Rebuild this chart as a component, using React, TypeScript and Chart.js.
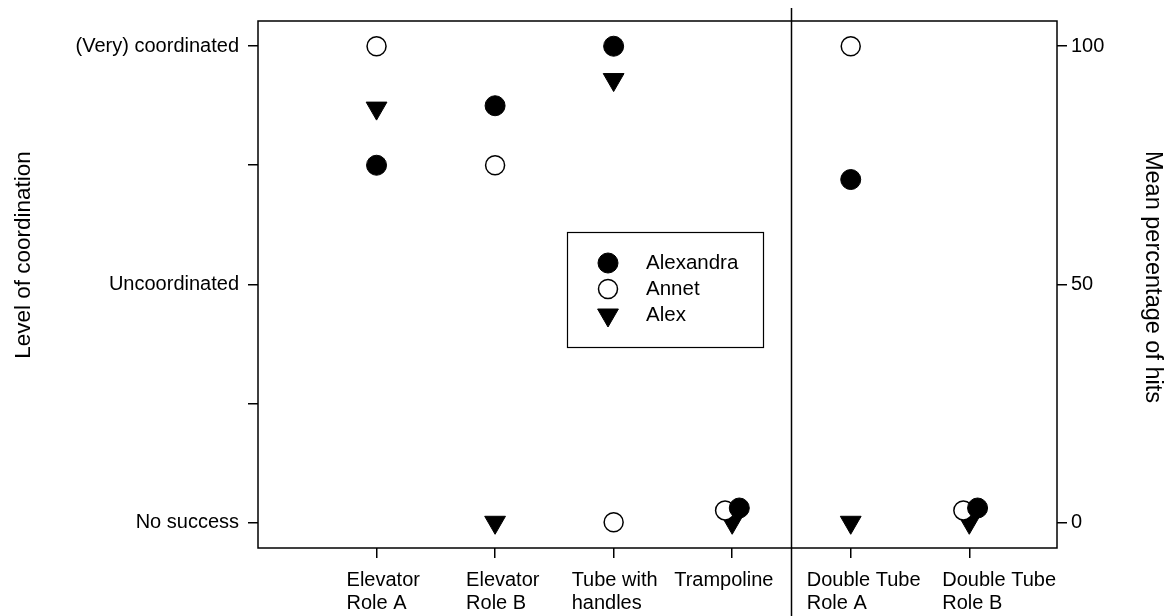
import React, { useEffect, useRef } from "react";
import { Chart, registerables } from "chart.js";

Chart.register(...registerables);

// ---- data ----
const categories: string[][] = [
  ["Elevator", "Role A"],
  ["Elevator", "Role B"],
  ["Tube with", "handles"],
  ["Trampoline"],
  ["Double Tube", "Role A"],
  ["Double Tube", "Role B"],
];
const alexandraValues = [75, 87.5, 100, 3, 72, 3];
const annetValues = [100, 75, 0, 2.5, 100, 2.5];
const alexValues = [87, 0, 93, 0, 0, 0];
// small horizontal offsets used in the original to separate overlapping symbols
const alexandraJitter = [0, 0, 0, 0.06, 0, 0.07];
const annetJitter = [0, 0, 0, -0.06, 0, -0.05];
const alexJitter = [0, 0, 0, 0, 0, 0];
const leftTickValues = [0, 25, 50, 75, 100];
const leftTickLabels: Record<number, string> = {
  0: "No success",
  50: "Uncoordinated",
  100: "(Very) coordinated",
};
const rightTickValues = [0, 50, 100];
const dividerAt = 3.5;
const seriesNames = ["Alexandra", "Annet", "Alex"];
const leftTitle = "Level of coordination";
const rightTitle = "Mean percentage of hits";

// layout: left edge of each category label relative to its tick (px)
const labelShift = [-30, -29, -42, -58, -44, -27];

const FONT = "'Liberation Sans', Arial, Helvetica, sans-serif";

function toPoints(vals: number[], jit: number[]) {
  return vals.map((v, i) => ({ x: i + jit[i], y: v }));
}

function drawSymbol(ctx: CanvasRenderingContext2D, ds: any, x: number, y: number) {
  ctx.save();
  ctx.fillStyle = ds.backgroundColor;
  ctx.strokeStyle = ds.borderColor;
  ctx.lineWidth = ds.borderWidth;
  const r = ds.pointRadius;
  ctx.beginPath();
  if (ds.pointStyle === "triangle") {
    const w = r * Math.sqrt(3);
    ctx.moveTo(x - w / 2, y - r / 2);
    ctx.lineTo(x + w / 2, y - r / 2);
    ctx.lineTo(x, y + r);
    ctx.closePath();
  } else {
    ctx.arc(x, y, r, 0, Math.PI * 2);
  }
  ctx.fill();
  ctx.stroke();
  ctx.restore();
}

const framePlugin = {
  id: "frame",
  afterDraw(chart: any) {
    const { ctx, chartArea: ca, scales } = chart;
    ctx.save();
    ctx.strokeStyle = "#000";
    ctx.lineWidth = 1.5;
    ctx.strokeRect(ca.left, ca.top, ca.right - ca.left, ca.bottom - ca.top);
    // divider
    const dx = Math.round(scales.x.getPixelForValue(dividerAt)) + 0.5;
    ctx.beginPath();
    ctx.moveTo(dx, 8);
    ctx.lineTo(dx, chart.height);
    ctx.stroke();
    // x labels (left-aligned lines)
    ctx.fillStyle = "#000";
    ctx.font = `20px ${FONT}`;
    ctx.textBaseline = "middle";
    ctx.textAlign = "left";
    categories.forEach((lines, i) => {
      const px = scales.x.getPixelForValue(i);
      const left = px + labelShift[i];
      lines.forEach((l, j) => {
        ctx.fillText(l, left, ca.bottom + 32 + j * 23);
      });
    });
    // axis titles
    ctx.textBaseline = "alphabetic";
    ctx.textAlign = "center";
    ctx.save();
    ctx.font = `22.5px ${FONT}`;
    ctx.translate(30, 255);
    ctx.rotate(-Math.PI / 2);
    ctx.fillText(leftTitle, 0, 0);
    ctx.restore();
    ctx.save();
    ctx.font = `23.5px ${FONT}`;
    ctx.translate(1146, 277);
    ctx.rotate(Math.PI / 2);
    ctx.fillText(rightTitle, 0, 0);
    ctx.restore();
    // legend
    ctx.textBaseline = "middle";
    ctx.textAlign = "left";
    ctx.font = `20.5px ${FONT}`;
    const bx = ca.left + 309;
    const by = ca.top + 211;
    ctx.lineWidth = 1.2;
    ctx.strokeRect(bx + 0.5, by + 0.5, 196, 115);
    chart.data.datasets.forEach((ds: any, i: number) => {
      const y = by + 31 + i * 26;
      drawSymbol(ctx, ds, bx + 41, y);
      ctx.fillStyle = "#000";
      ctx.fillText(ds.label, bx + 79, y);
    });
    ctx.restore();
  },
};

export default function App() {
  const ref = useRef<HTMLCanvasElement | null>(null);
  useEffect(() => {
    if (!ref.current) return;
    Chart.defaults.font.family = FONT;
    const tickGrid = {
      drawOnChartArea: false,
      drawTicks: true,
      tickLength: 10,
      color: "#000",
      lineWidth: 1.5,
    };
    const chart = new Chart(ref.current, {
      type: "scatter",
      data: {
        datasets: [
          {
            label: seriesNames[0],
            data: toPoints(alexandraValues, alexandraJitter),
            pointStyle: "circle",
            pointRadius: 10,
            backgroundColor: "#000",
            borderColor: "#000",
            borderWidth: 1,
          },
          {
            label: seriesNames[1],
            data: toPoints(annetValues, annetJitter),
            pointStyle: "circle",
            pointRadius: 9.5,
            backgroundColor: "#fff",
            borderColor: "#000",
            borderWidth: 1.5,
          },
          {
            label: seriesNames[2],
            data: toPoints(alexValues, alexJitter),
            pointStyle: "triangle",
            rotation: 180,
            pointRadius: 12,
            backgroundColor: "#000",
            borderColor: "#000",
            borderWidth: 1,
          },
        ] as any,
      },
      options: {
        animation: false,
        responsive: false,
        layout: { padding: { top: 20, left: 0, right: 0, bottom: 0 } },
        plugins: { legend: { display: false }, tooltip: { enabled: false } },
        scales: {
          x: {
            type: "linear",
            min: -1,
            max: 5.74,
            afterBuildTicks: (s: any) => {
              s.ticks = categories.map((_, i) => ({ value: i }));
            },
            afterFit: (s: any) => {
              s.height = 68;
            },
            ticks: { display: false },
            grid: tickGrid,
            border: { display: false },
          },
          y: {
            position: "left",
            min: -5.4,
            max: 105.3,
            afterBuildTicks: (s: any) => {
              s.ticks = leftTickValues.map((v) => ({ value: v }));
            },
            afterFit: (s: any) => {
              s.width = 258;
            },
            ticks: {
              callback: (v: any) => leftTickLabels[v] ?? "",
              color: "#000",
              font: { size: 20, family: FONT },
              padding: 9,
            },
            grid: tickGrid,
            border: { display: false },
          },
          y2: {
            position: "right",
            min: -5.4,
            max: 105.3,
            afterBuildTicks: (s: any) => {
              s.ticks = rightTickValues.map((v) => ({ value: v }));
            },
            afterFit: (s: any) => {
              s.width = 115;
            },
            ticks: {
              callback: (v: any) => String(v),
              color: "#000",
              font: { size: 20, family: FONT },
              padding: 4,
            },
            grid: tickGrid,
            border: { display: false },
          },
        },
      } as any,
      plugins: [framePlugin],
    });
    return () => chart.destroy();
  }, []);
  return (
    <div style={{ position: "fixed", left: 0, top: 0, width: 1172, height: 616, background: "#fff" }}>
      <canvas ref={ref} width={1172} height={616} style={{ display: "block" }} />
    </div>
  );
}
